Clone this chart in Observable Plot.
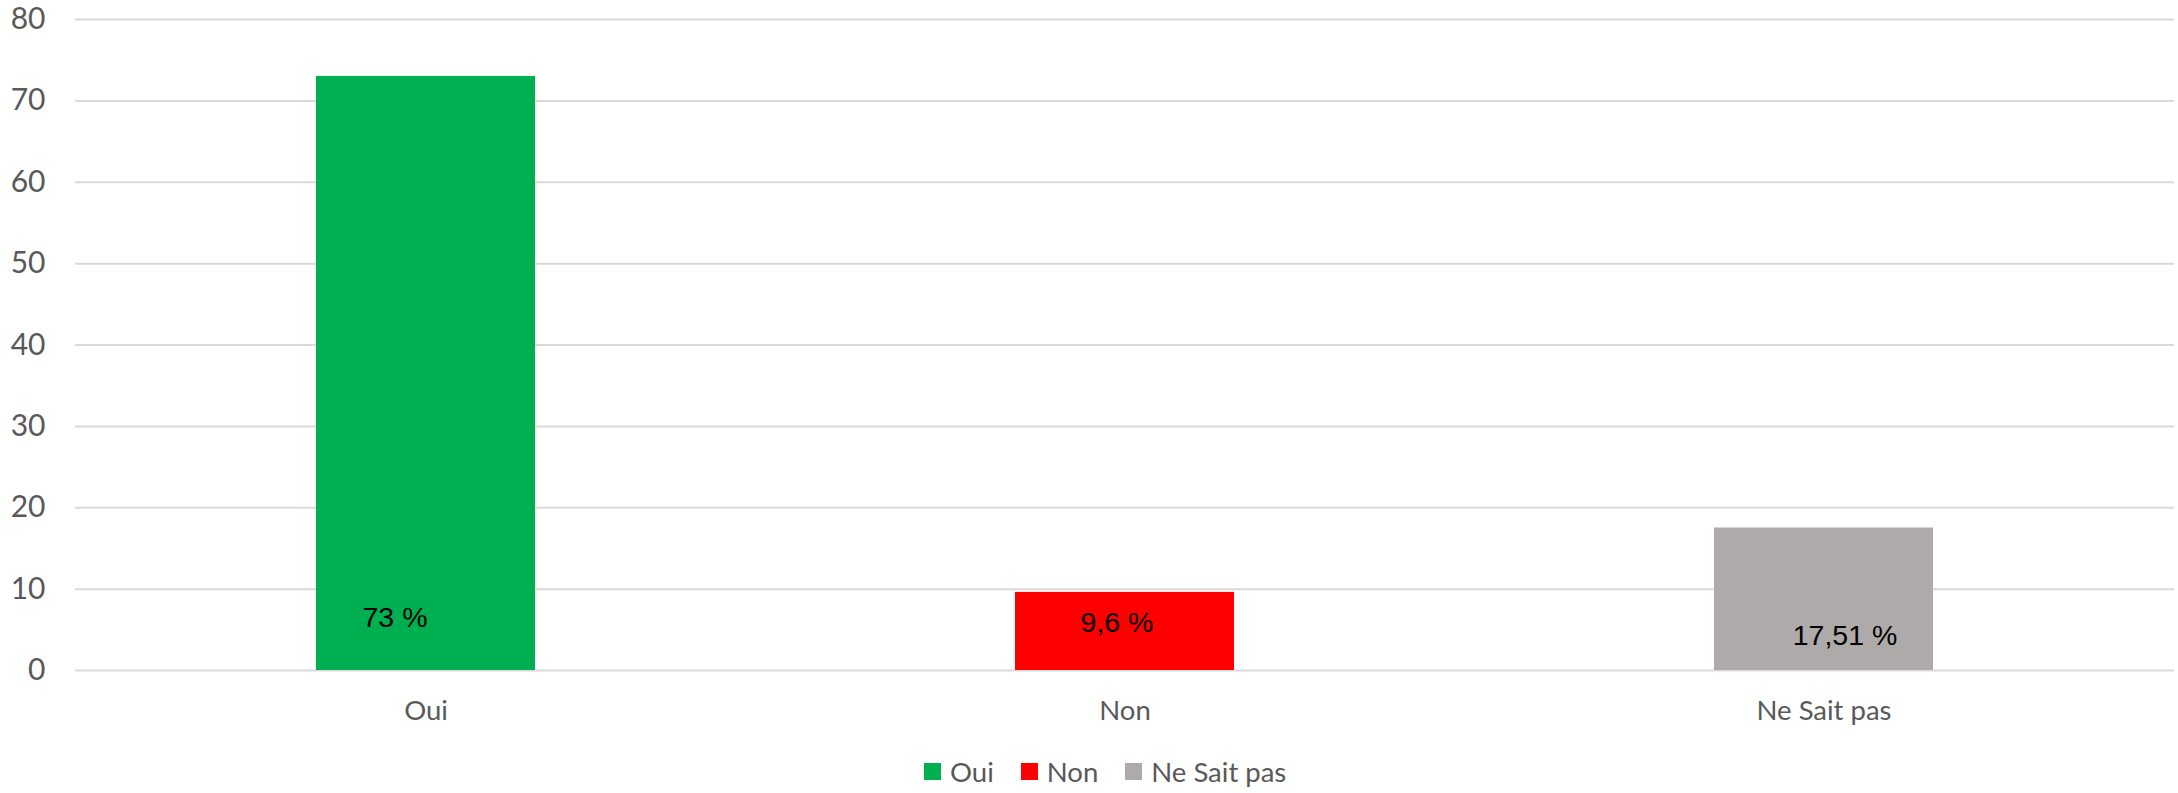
<!DOCTYPE html>
<html>
<head>
<meta charset="utf-8">
<script src="https://cdn.jsdelivr.net/npm/d3@7"></script>
<script src="https://cdn.jsdelivr.net/npm/@observablehq/plot@0.6"></script>
<style>
  html, body { margin: 0; padding: 0; background: #fff; }
  #wrap { position: relative; width: 2178px; height: 793px; }
  #legend { position: absolute; left: 924px; top: 758px; display: flex; align-items: center;
            font-family: Lato, "Open Sans", sans-serif; font-size: 27.5px; line-height: 27px; color: #595959; }
  .item { display: flex; align-items: center; margin-right: 27px; }
  .sw { width: 17px; height: 17px; margin-right: 9px; }
</style>
</head>
<body>
<div id="wrap"></div>
<script>
const categories = ["Oui", "Non", "Ne Sait pas"];
const values = [73, 9.6, 17.51];
const labels = ["73 %", "9,6 %", "17,51 %"];
const colors = ["#00B050", "#FF0000", "#AEAAAA"];
const yTicks = [0, 10, 20, 30, 40, 50, 60, 70, 80];

const data = categories.map((c, i) => ({cat: c, value: values[i], label: labels[i]}));

// label nudges (pixels), as placed by hand in the original chart
const labelNudge = {"Oui": [-31, -53], "Non": [-8, -48], "Ne Sait pas": [21, -35]};

const chart = Plot.plot({
  width: 2178,
  height: 740,
  marginLeft: 75,
  marginRight: 4,
  marginTop: 19,
  marginBottom: 70,
  style: {fontFamily: "Lato, 'Open Sans', sans-serif", background: "#fff"},
  x: {domain: categories, paddingInner: 0.686, paddingOuter: 0.343, label: null},
  y: {domain: [0, 80], label: null},
  color: {domain: categories, range: colors},
  marks: [
    Plot.ruleY(yTicks, {stroke: "#d9d9d9", strokeWidth: 2}),
    Plot.barY(data, {x: "cat", y: "value", fill: "cat"}),
    ...categories.map(c => Plot.text(data.filter(d => d.cat === c), {
      x: "cat", y: 0, dx: labelNudge[c][0], dy: labelNudge[c][1], text: "label", fill: "#000",
      fontFamily: "'Liberation Sans', Arial, sans-serif", fontSize: 28.5})),
    Plot.axisY({ticks: yTicks, tickSize: 0, tickPadding: 30, fontSize: 30, color: "#595959", label: null}),
    Plot.axisX({tickSize: 0, tickPadding: 30, fontSize: 27.5, color: "#595959", label: null})
  ]
});
document.getElementById("wrap").appendChild(chart);

const legend = document.createElement("div");
legend.id = "legend";
categories.forEach((c, i) => {
  const it = document.createElement("div");
  it.className = "item";
  const sw = document.createElement("div");
  sw.className = "sw";
  sw.style.background = colors[i];
  const t = document.createElement("span");
  t.textContent = c;
  it.appendChild(sw); it.appendChild(t);
  legend.appendChild(it);
});
document.getElementById("wrap").appendChild(legend);
</script>
</body>
</html>
